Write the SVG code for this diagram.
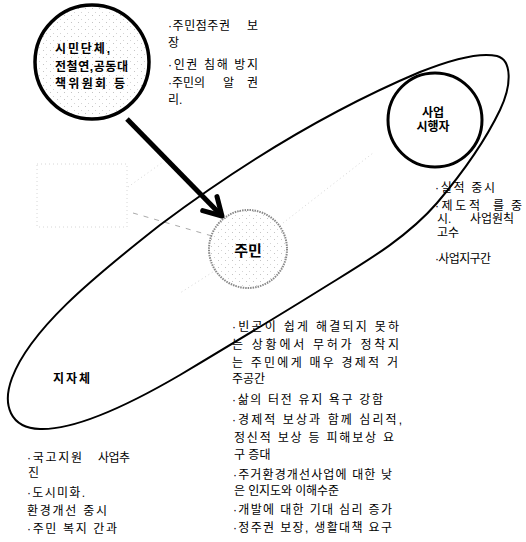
<svg xmlns="http://www.w3.org/2000/svg" width="526" height="542" viewBox="0 0 526 542">
<defs>
<pattern id="stip" width="7" height="7" patternUnits="userSpaceOnUse">
<rect x="1" y="1" width="1" height="1" fill="#c4c4c4"/>
<rect x="4" y="5" width="1" height="1" fill="#d4d4d4"/>
</pattern>
</defs>
<style>
.t{font-family:"Liberation Sans","Noto Sans CJK KR",sans-serif;font-size:12px;fill:#000}
.b{font-family:"Liberation Sans","Noto Sans CJK KR",sans-serif;font-size:12px;font-weight:bold;fill:#000}
.faint{fill:none;stroke:#d6d6d6;stroke-width:1;stroke-dasharray:1 3}
.line{fill:none;stroke:#000}
</style>
<rect width="526" height="542" fill="#fff"/>

<g id="faint-traces">
<rect x="37" y="164" width="90" height="63" class="faint"/>
<line x1="128" y1="187" x2="163" y2="162" class="faint"/>
<line x1="133" y1="213" x2="212" y2="236" class="faint" style="stroke:#aaa;stroke-dasharray:5 6"/>
<line x1="283" y1="223" x2="373" y2="153" class="faint"/>
<line x1="216" y1="270" x2="180" y2="293" class="faint"/>
</g>

<g id="jijache">
<path class="line" stroke-width="2" d="M40,429 C10,428 2,405 12,378 C30,330 90,280 160,225 C240,165 330,110 420,72 C450,60 480,52 497,56 C512,60 512,85 500,110 C488,135 465,170 437,203 C405,240 360,265 320,290 C280,315 230,345 180,375 C120,410 70,430 40,429 Z"/>
<text class="b" x="53" y="383" textLength="37">지자체</text>
</g>

<g id="simin">
<circle cx="92" cy="62" r="57" fill="url(#stip)" stroke="#000" stroke-width="3.5"/>
<text class="b" x="55" y="53" textLength="55">시민단체,</text>
<text class="b" x="55" y="71" textLength="73">전철연,공동대</text>
<text class="b" x="55" y="88" textLength="70">책위원회 등</text>
</g>

<g id="saeop">
<circle cx="435" cy="120" r="47" fill="none" stroke="#000" stroke-width="3"/>
<text class="b" x="433" y="117" text-anchor="middle">사업</text>
<text class="b" x="433" y="131" text-anchor="middle">시행자</text>
</g>

<g id="jumin">
<circle cx="248" cy="249" r="39" fill="url(#stip)" stroke="#888" stroke-width="2" stroke-dasharray="1.5 1"/>
<text class="b" x="248" y="256" text-anchor="middle" style="font-size:15px">주민</text>
</g>

<g id="connectors">
<line x1="127" y1="119" x2="220" y2="214" class="line" stroke-width="5"/>
<polyline points="202.7,210.6 222,216 217,196.6" class="line" stroke-width="5" stroke-linecap="round" stroke-linejoin="round"/>
</g>

<g id="notes-simin">
<text class="t" x="168" y="30" textLength="62">·주민점주권</text>
<text class="t" x="247" y="30">보</text>
<text class="t" x="168" y="47">장</text>
<text class="t" x="168" y="69" textLength="90">·인권 침해 방지</text>
<text class="t" x="168" y="87" textLength="37">·주민의</text>
<text class="t" x="223" y="87">알</text>
<text class="t" x="247" y="87">권</text>
<text class="t" x="168" y="104">리.</text>
</g>

<g id="notes-saeop">
<text class="t" x="435" y="192" textLength="60">·실적 중시</text>
<text class="t" x="435" y="210" textLength="45">·제도적</text>
<text class="t" x="493" y="210">를</text>
<text class="t" x="511" y="210">중</text>
<text class="t" x="437" y="223">시.</text>
<text class="t" x="470" y="223">사업원칙</text>
<text class="t" x="437" y="237">고수</text>
<text class="t" x="435" y="263" textLength="56">·사업지구간</text>
</g>

<g id="notes-jumin">
<text class="t" x="232" y="331" textLength="167">·빈곤이 쉽게 해결되지 못하</text>
<text class="t" x="232" y="349" textLength="167">는 상황에서 무허가 정착지</text>
<text class="t" x="232" y="367" textLength="166">는 주민에게 매우 경제적 거</text>
<text class="t" x="232" y="383">주공간</text>
<text class="t" x="232" y="404" textLength="151">·삶의 터전 유지 욕구 강함</text>
<text class="t" x="232" y="424" textLength="170">·경제적 보상과 함께 심리적,</text>
<text class="t" x="234" y="442" textLength="160">정신적 보상 등 피해보상 요</text>
<text class="t" x="234" y="459">구 증대</text>
<text class="t" x="233" y="479" textLength="159">·주거환경개선사업에 대한 낮</text>
<text class="t" x="234" y="495" textLength="105">은 인지도와 이해수준</text>
<text class="t" x="233" y="514" textLength="159">·개발에 대한 기대 심리 증가</text>
<text class="t" x="233" y="532" textLength="159">·정주권 보장, 생활대책 요구</text>
</g>

<g id="notes-jijache">
<text class="t" x="27" y="462" textLength="55">·국고지원</text>
<text class="t" x="98" y="462" textLength="32">사업추</text>
<text class="t" x="28" y="477">진</text>
<text class="t" x="27" y="497" textLength="58">·도시미화.</text>
<text class="t" x="27" y="515" textLength="80">환경개선 중시</text>
<text class="t" x="27" y="533" textLength="90">·주민 복지 간과</text>
</g>
</svg>
